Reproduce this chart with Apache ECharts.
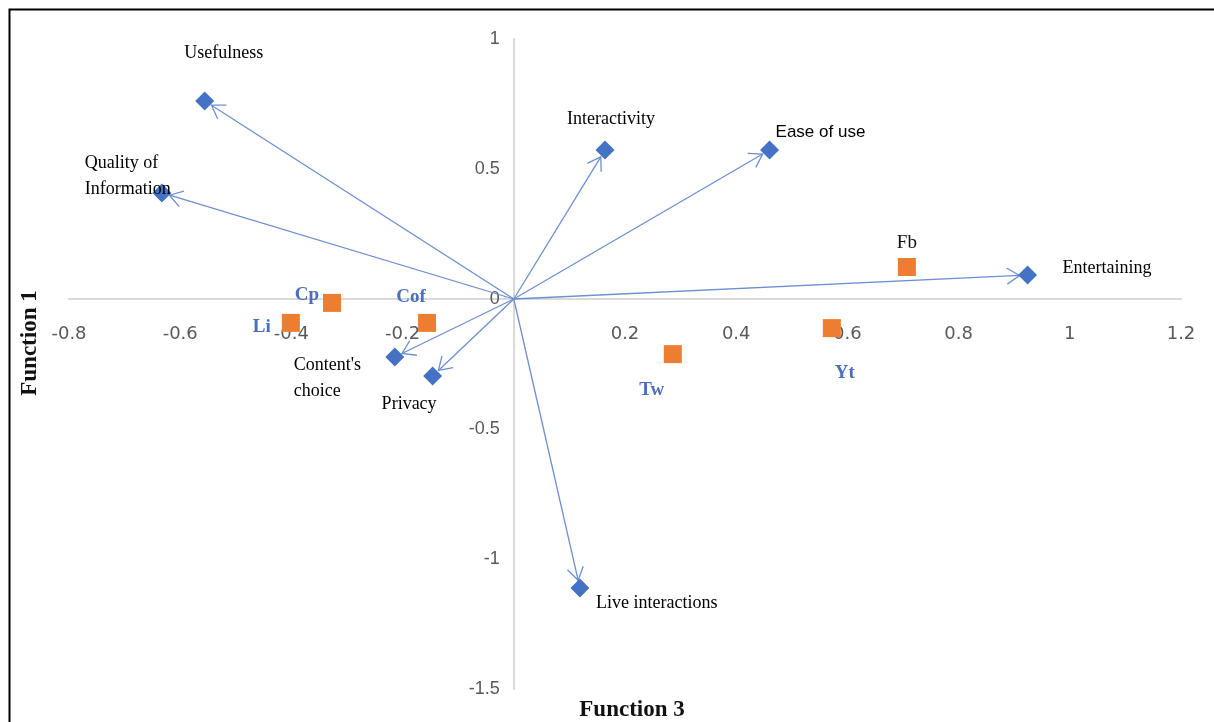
<!DOCTYPE html>
<html><head><meta charset="utf-8">
<script src="https://cdn.jsdelivr.net/npm/echarts@6/dist/echarts.min.js"></script>
<style>html,body{margin:0;padding:0;background:#fff}#c{width:1214px;height:722px}</style>
</head><body><div id="c"></div>
<script>
// ---- data ----
const variableNames = ['Usefulness', 'Quality of\nInformation', 'Interactivity', 'Ease of use', 'Entertaining', "Content's\nchoice", 'Privacy', 'Live interactions'];
const variableX = [-0.556, -0.633, 0.164, 0.460, 0.924, -0.214, -0.146, 0.119];
const variableY = [0.762, 0.408, 0.573, 0.573, 0.092, -0.223, -0.296, -1.112];
const platformNames = ['Cp', 'Li', 'Cof', 'Tw', 'Yt', 'Fb'];
const platformX = [-0.327, -0.401, -0.156, 0.286, 0.572, 0.707];
const platformY = [-0.015, -0.092, -0.092, -0.212, -0.112, 0.123];
const xAxisTitle = 'Function 3';
const yAxisTitle = 'Function 1';

// ---- label placement (styling only) ----
const varLabelStyle = {
  'Usefulness': { align: 'center', offset: [19, -48] },
  'Quality of\nInformation': { align: 'left', offset: [-77, -17] },
  'Interactivity': { align: 'left', offset: [-38, -31] },
  'Ease of use': { align: 'left', offset: [6, -18], fontFamily: 'Liberation Sans', fontSize: 17 },
  'Entertaining': { align: 'left', offset: [35, -7] },
  "Content's\nchoice": { align: 'left', offset: [-101, 21] },
  'Privacy': { align: 'left', offset: [-51, 28] },
  'Live interactions': { align: 'left', offset: [16, 15] }
};
const platLabelStyle = {
  'Cp': { offset: [-25, -8] },
  'Li': { offset: [-29, 4] },
  'Cof': { offset: [-16, -26] },
  'Tw': { offset: [-21, 36] },
  'Yt': { offset: [13, 45] },
  'Fb': { offset: [0, -24], color: '#111', fontWeight: 'normal' }
};

const serif = 'Liberation Serif';
const varData = variableNames.map((n, i) => {
  const s = varLabelStyle[n];
  return {
    name: n, value: [variableX[i], variableY[i]],
    label: { show: true, position: 'inside', formatter: n, align: s.align, verticalAlign: 'middle',
      offset: s.offset, color: '#000', fontFamily: s.fontFamily || serif, fontSize: s.fontSize || 18, lineHeight: 26 }
  };
});
const platData = platformNames.map((n, i) => {
  const s = platLabelStyle[n];
  return {
    name: n, value: [platformX[i], platformY[i]],
    label: { show: true, position: 'inside', formatter: n, align: 'center', verticalAlign: 'middle',
      offset: s.offset, color: s.color || '#4a6fbf', fontFamily: serif, fontSize: 19, fontWeight: s.fontWeight || 'bold' }
  };
});

const chart = echarts.init(document.getElementById('c'), null, { renderer: 'canvas' });
const arrowColor = '#6d8fd2';
const grid = { left: 69, right: 33, top: 39, bottom: 33, outerBoundsMode: 'none', containLabel: false };
chart.setOption({
  animation: false,
  backgroundColor: '#fff',
  grid: grid,
  xAxis: {
    type: 'value', min: -0.8, max: 1.2, interval: 0.2, position: 'bottom',
    axisLine: { onZero: false, lineStyle: { color: '#d9d9d9', width: 2 } },
    axisTick: { show: false }, splitLine: { show: false },
    axisLabel: { margin: 26, color: '#595959', fontFamily: 'DejaVu Sans', fontSize: 18,
      formatter: v => Math.abs(v) < 1e-9 ? '' : String(+v.toFixed(1)) }
  },
  yAxis: {
    type: 'value', min: -1.5, max: 1, interval: 0.5, position: 'left',
    axisLine: { show: true, onZero: false, lineStyle: { color: '#d9d9d9', width: 2 } },
    axisTick: { show: false }, splitLine: { show: false },
    axisLabel: { margin: 14, color: '#595959', fontFamily: 'Liberation Sans', fontSize: 18,
      formatter: v => String(+v.toFixed(1)) }
  },
  graphic: [
    { type: 'rect', left: 7, top: 7, shape: { width: 1230, height: 730 }, style: { fill: null, stroke: '#000', lineWidth: 2 }, silent: true, z: 100 },
    { type: 'text', x: 30, y: 343, rotation: Math.PI / 2, style: { text: yAxisTitle, fontFamily: serif, fontWeight: 'bold', fontSize: 23, fill: '#111', align: 'center', verticalAlign: 'middle' } },
    { type: 'text', x: 632, y: 710, style: { text: xAxisTitle, fontFamily: serif, fontWeight: 'bold', fontSize: 23, fill: '#111', align: 'center', verticalAlign: 'middle' } }
  ],
  series: [
    {
      type: 'custom', z: 2, silent: true,
      data: variableNames.map((n, i) => [variableX[i], variableY[i]]),
      renderItem(params, api) {
        const p0 = api.coord([0, 0]);
        const pt = api.coord([api.value(0), api.value(1)]);
        const dx = pt[0] - p0[0], dy = pt[1] - p0[1];
        const len = Math.hypot(dx, dy);
        const ux = dx / len, uy = dy / len;
        const p1 = [pt[0] - ux * 8, pt[1] - uy * 8];
        const hl = 15, ha = Math.PI / 5.5;
        const rot = (x, y, a) => [x * Math.cos(a) - y * Math.sin(a), x * Math.sin(a) + y * Math.cos(a)];
        const l = rot(-ux, -uy, ha), r = rot(-ux, -uy, -ha);
        return {
          type: 'group', children: [
            { type: 'line', shape: { x1: p0[0], y1: p0[1], x2: p1[0], y2: p1[1] }, style: { stroke: arrowColor, lineWidth: 1.3 } },
            { type: 'polyline', shape: { points: [[p1[0] + l[0] * hl, p1[1] + l[1] * hl], p1, [p1[0] + r[0] * hl, p1[1] + r[1] * hl]] },
              style: { stroke: arrowColor, fill: null, lineWidth: 1.3 } }
          ]
        };
      }
    },
    {
      type: 'scatter', z: 3, symbol: 'diamond', symbolSize: 19,
      itemStyle: { color: '#4472c4', opacity: 1 }, data: varData
    },
    {
      type: 'scatter', z: 3, symbol: 'rect', symbolSize: 18,
      itemStyle: { color: '#ed7d31', opacity: 1 }, data: platData
    }
  ]
});
// move both axes (line + labels) to cross at zero, like the reference
const x0 = chart.convertToPixel({ xAxisIndex: 0 }, 0);
const y0 = chart.convertToPixel({ yAxisIndex: 0 }, 0);
chart.setOption({
  xAxis: { offset: -((722 - grid.bottom) - y0) },
  yAxis: { offset: -(x0 - grid.left) }
});
</script></body></html>
